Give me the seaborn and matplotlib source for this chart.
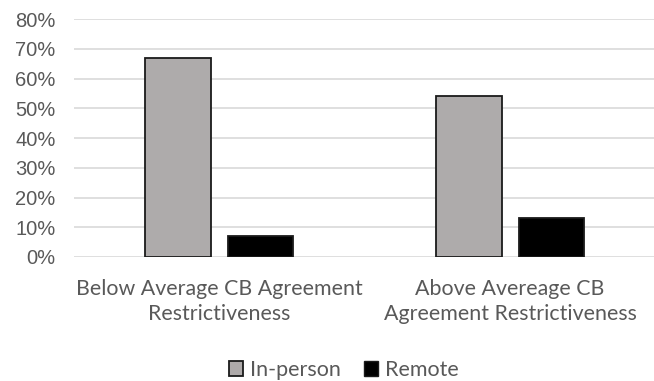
import matplotlib
matplotlib.use("Agg")
import matplotlib.pyplot as plt
import seaborn as sns
import pandas as pd
from matplotlib.ticker import PercentFormatter
from matplotlib.patches import Patch

categories = ["Below Average CB Agreement\nRestrictiveness",
              "Above Avereage CB\nAgreement Restrictiveness"]
series = ["In-person", "Remote"]
in_person = [0.67, 0.54]
remote = [0.07, 0.13]
colors = ["#aeaaaa", "#000000"]
yticks = [0, 0.1, 0.2, 0.3, 0.4, 0.5, 0.6, 0.7, 0.8]

df = pd.DataFrame({
    "category": categories * 2,
    "mode": [series[0]] * 2 + [series[1]] * 2,
    "share": in_person + remote,
})

sns.set_theme(style="white")
text_gray = "#595959"

fig = plt.figure(figsize=(6.54, 3.81), dpi=100)
ax = fig.add_axes([0.1125, 0.3255, 0.89, 0.6245])

sns.barplot(data=df, x="category", y="share", hue="mode", hue_order=series,
            palette=colors, width=0.568, gap=0.205, edgecolor="#1a1a1a",
            linewidth=1.3, legend=False, ax=ax, zorder=3)

ax.set_ylim(0, 0.8)
ax.set_xlim(-0.5, 1.5)
ax.set_yticks(yticks)
ax.yaxis.set_major_formatter(PercentFormatter(1.0, decimals=0))
ax.grid(axis="y", color="#d9d9d9", linewidth=1.2, zorder=0)
ax.set_axisbelow(True)
for s in ax.spines.values():
    s.set_visible(False)
ax.set_xlabel("")
ax.set_ylabel("")
ax.tick_params(axis="both", length=0)
ax.tick_params(axis="y", pad=13, labelsize=14.5, labelcolor=text_gray)
ax.tick_params(axis="x", pad=16, labelcolor=text_gray)
for lab in ax.get_yticklabels():
    lab.set_fontfamily("Liberation Sans")
for lab in ax.get_xticklabels():
    lab.set_fontfamily("Lato")
    lab.set_fontsize(15.4)
    lab.set_linespacing(1.32)

handles = [Patch(facecolor=colors[0], edgecolor="#1a1a1a", linewidth=1.3),
           Patch(facecolor=colors[1], edgecolor="#1a1a1a", linewidth=1.0)]
fig.legend(handles, series, loc="center", bbox_to_anchor=(344 / 654, 1 - 370 / 381),
           ncol=2, frameon=False, handlelength=0.65, handleheight=0.65,
           handletextpad=0.3, columnspacing=1.1,
           prop={"family": "Lato", "size": 15.5}, labelcolor=text_gray)

fig.savefig("out.png", dpi=100)
